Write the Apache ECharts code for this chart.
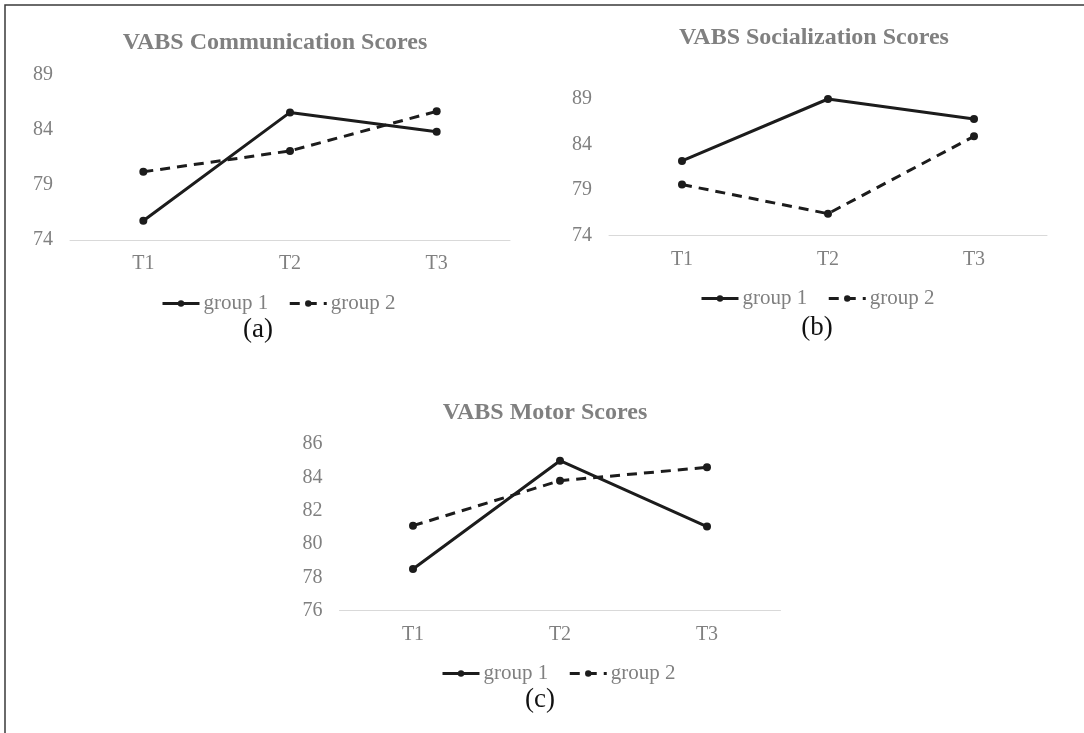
<!DOCTYPE html>
<html>
<head>
<meta charset="utf-8">
<script src="https://cdn.jsdelivr.net/npm/echarts@6/dist/echarts.min.js"></script>
<style>
  html, body { margin: 0; padding: 0; background: #fff; }
  #chart { width: 1084px; height: 733px; }
</style>
</head>
<body>
<div id="chart"></div>
<script>
// Time points shared by all three panels
const timePoints = ['T1', 'T2', 'T3'];
const seriesNames = ['group 1', 'group 2'];

// (a) VABS Communication
const commGroup1 = [75.75, 85.6, 83.85];
const commGroup2 = [80.2, 82.1, 85.7];
const commTicks = [74, 79, 84, 89];

// (b) VABS Socialization
const socGroup1 = [82.2, 89.0, 86.8];
const socGroup2 = [79.6, 76.4, 84.9];
const socTicks = [74, 79, 84, 89];

// (c) VABS Motor
const motorGroup1 = [78.5, 85.0, 81.05];
const motorGroup2 = [81.1, 83.8, 84.6];
const motorTicks = [76, 78, 80, 82, 84, 86];

const panelTitles = ['VABS Communication Scores', 'VABS Socialization Scores', 'VABS Motor Scores'];
const panelTags = ['(a)', '(b)', '(c)'];

const SERIF = '"Liberation Serif", "Times New Roman", serif';
const INK = '#1c1c1c';
const GREY = '#808080';
const DASH = [10, 7];

// Panel geometry: plot rectangle, title, legend and tag placement
const panels = [
  { grid: { left: 70, top: 75, width: 440, height: 165 }, ticks: commTicks, g1: commGroup1, g2: commGroup2,
    title: [275, 43], legend: [156, 288], tag: [258, 330] },
  { grid: { left: 609, top: 99, width: 438, height: 136.5 }, ticks: socTicks, g1: socGroup1, g2: socGroup2,
    title: [814, 38], legend: [695, 283], tag: [817, 328] },
  { grid: { left: 339.5, top: 444, width: 441, height: 166.7 }, ticks: motorTicks, g1: motorGroup1, g2: motorGroup2,
    title: [545, 413], legend: [436, 658], tag: [540, 700] }
];

const grids = [], xAxes = [], yAxes = [], series = [], legends = [], graphics = [];

panels.forEach((p, i) => {
  grids.push(Object.assign({ containLabel: false }, p.grid));
  xAxes.push({
    type: 'category', gridIndex: i, data: timePoints, boundaryGap: true,
    axisLine: { show: true, lineStyle: { color: '#d9d9d9', width: 1 } },
    axisTick: { show: false },
    axisLabel: { color: GREY, fontFamily: SERIF, fontSize: 20, margin: 14 },
    splitLine: { show: false }
  });
  const t = p.ticks;
  yAxes.push({
    type: 'value', gridIndex: i,
    min: t[0], max: t[t.length - 1],
    axisLine: { show: false }, axisTick: { show: false }, splitLine: { show: false },
    axisLabel: { color: GREY, fontFamily: SERIF, fontSize: 20, margin: 17, customValues: t }
  });
  series.push({
    name: seriesNames[0], type: 'line', xAxisIndex: i, yAxisIndex: i, data: p.g1,
    symbol: 'circle', symbolSize: 8, color: INK,
    itemStyle: { color: INK }, lineStyle: { color: INK, width: 3, type: 'solid' },
    emphasis: { disabled: true }, animation: false
  });
  series.push({
    name: seriesNames[1], type: 'line', xAxisIndex: i, yAxisIndex: i, data: p.g2,
    symbol: 'circle', symbolSize: 8, color: INK,
    itemStyle: { color: INK }, lineStyle: { color: INK, width: 3, type: DASH },
    emphasis: { disabled: true }, animation: false
  });
  legends.push({
    data: seriesNames, left: p.legend[0], top: p.legend[1], orient: 'horizontal',
    itemWidth: 37, itemHeight: 8, itemGap: 20, selectedMode: false,
    lineStyle: { width: 3, color: INK },
    itemStyle: { color: INK },
    textStyle: { color: GREY, fontFamily: SERIF, fontSize: 21, padding: [0, 0, 0, -1] }
  });
  graphics.push({
    type: 'text', x: p.title[0], y: p.title[1],
    style: { text: panelTitles[i], textAlign: 'center', textVerticalAlign: 'middle',
      font: 'bold 24px ' + SERIF, fill: GREY }
  });
  graphics.push({
    type: 'text', x: p.tag[0], y: p.tag[1],
    style: { text: panelTags[i], textAlign: 'center', textVerticalAlign: 'middle',
      font: '27px ' + SERIF, fill: '#111' }
  });
});

// Frame around the figure
graphics.push({
  type: 'rect', shape: { x: 5, y: 5, width: 1100, height: 760 },
  style: { fill: 'none', stroke: '#3a3a3a', lineWidth: 1.5 }, z: 10
});

const chart = echarts.init(document.getElementById('chart'), null, { renderer: 'canvas' });
chart.setOption({
  backgroundColor: '#fff',
  animation: false,
  grid: grids, xAxis: xAxes, yAxis: yAxes, series: series, legend: legends,
  graphic: graphics
});
</script>
</body>
</html>
